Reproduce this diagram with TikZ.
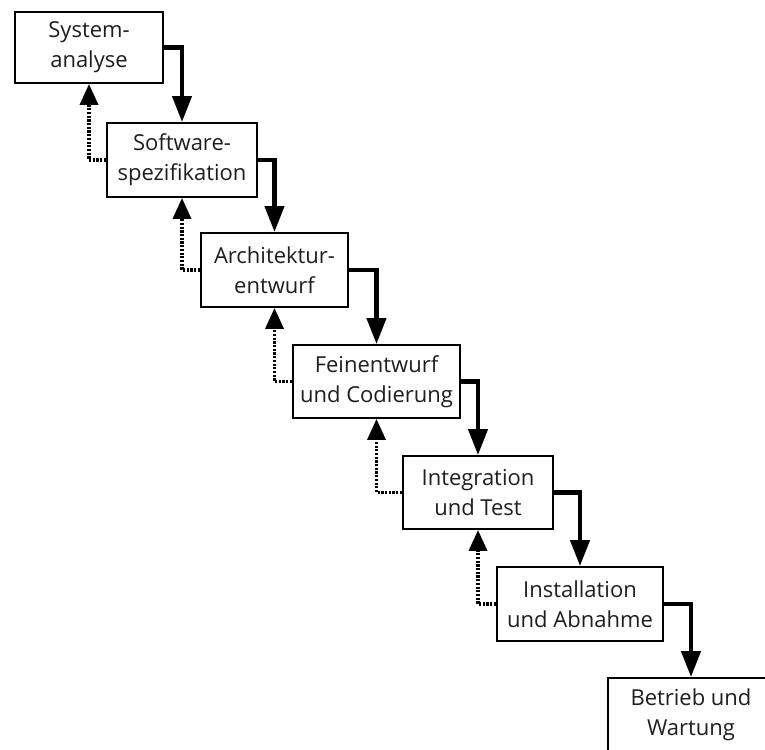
\documentclass[tikz,border=0pt]{standalone}
\usepackage{fontspec}
\setmainfont{Open Sans}
\usetikzlibrary{arrows.meta}
\definecolor{ink}{HTML}{1E1E1E}
\begin{document}
\begin{tikzpicture}[x=1pt,y=-1pt,
  phase/.style={draw, line width=1.9pt, align=center, inner sep=0pt,
    text=ink, font=\fontsize{22}{30}\selectfont},
  flow/.style={line width=4.3pt, -{Triangle[length=26pt,width=19pt]}},
  back/.style={line width=3.6pt, dash pattern=on 2.2pt off 1.5pt,
    -{Triangle[length=21pt,width=18pt]}}]
\clip (0,0) rectangle (765,749);
% phases of the waterfall
\node[phase, minimum width=148pt, minimum height=71pt] (b1) at (89,47.5) {System-\\analyse};
\node[phase, minimum width=150pt, minimum height=74pt] (b2) at (182,160) {Software-\\spezifikation};
\node[phase, minimum width=147pt, minimum height=74pt] (b3) at (274.5,270) {Architektur-\\entwurf};
\node[phase, minimum width=167pt, minimum height=73pt] (b4) at (376.5,381.5) {Feinentwurf\\und Codierung};
\node[phase, minimum width=150pt, minimum height=73pt] (b5) at (478,492.5) {Integration\\und Test};
\node[phase, minimum width=166pt, minimum height=74pt] (b6) at (580,604) {Installation\\und Abnahme};
\node[phase, minimum width=166pt, minimum height=74pt] (b7) at (691,715) {Betrieb und\\Wartung};
% forward flow and feedback paths
\foreach \a/\b in {b1/b2,b2/b3,b3/b4,b4/b5,b5/b6,b6/b7}{
  \draw[flow] (\a.east) -| (\b.north);
}
\foreach \a/\b in {b1/b2,b2/b3,b3/b4,b4/b5,b5/b6}{
  \draw[back] (\b.west) -| (\a.south);
}
\end{tikzpicture}
\end{document}
